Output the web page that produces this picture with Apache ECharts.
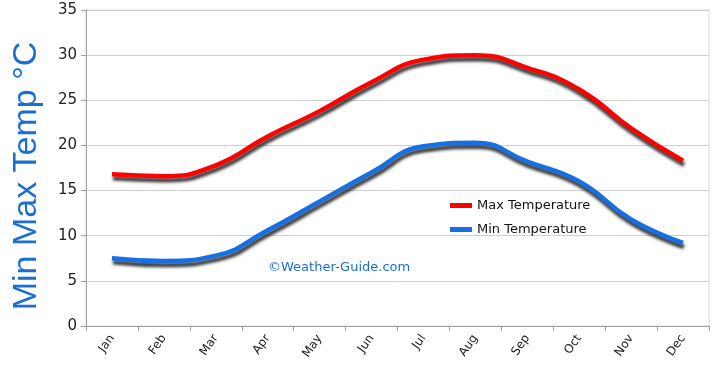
<!DOCTYPE html>
<html><head><meta charset="utf-8">
<script src="https://cdn.jsdelivr.net/npm/echarts@6/dist/echarts.min.js"></script>
<style>html,body{margin:0;padding:0;background:#fff}#c{width:720px;height:373px}</style>
</head><body><div id="c"></div>
<script>
var months = ['Jan','Feb','Mar','Apr','May','Jun','Jul','Aug','Sep','Oct','Nov','Dec'];
var maxTemp = [16.8, 16.6, 17.8, 21.0, 23.8, 27.0, 29.5, 30.0, 28.6, 26.2, 21.9, 18.3];
var minTemp = [7.5, 7.2, 7.8, 10.6, 13.8, 17.0, 19.9, 20.3, 18.2, 16.0, 11.8, 9.2];
var yTicks = [0, 5, 10, 15, 20, 25, 30, 35];
var seriesNames = ['Max Temperature', 'Min Temperature'];
var yTitle = 'Min Max Temp °C';
var font = '"DejaVu Sans", sans-serif';
var chart = echarts.init(document.getElementById('c'), null, {renderer:'canvas'});
function lineSeries(name, data, color) {
  return {
    name: name, type: 'line', data: data, smooth: 0.5, symbol: 'none',
    lineStyle: {color: color, width: 4.5, shadowColor: 'rgba(20,20,20,0.85)', shadowBlur: 3, shadowOffsetX: 1, shadowOffsetY: 4},
    itemStyle: {color: color}
  };
}
chart.setOption({
  animation: false,
  backgroundColor: '#fff',
  grid: {left: 86, right: 11, top: 10, bottom: 47, show: true, borderColor: '#d8d8d8', borderWidth: 1},
  legend: {
    orient: 'vertical', left: 445, top: 194, itemGap: 11, itemWidth: 22, itemHeight: 5,
    icon: 'rect',
    textStyle: {fontFamily: font, fontSize: 13, color: '#111'},
    data: seriesNames
  },
  xAxis: {
    type: 'category', data: months, boundaryGap: true,
    axisLine: {lineStyle: {color: '#a0a0a0'}},
    axisTick: {show: true, length: 5, lineStyle: {color: '#a0a0a0'}},
    axisLabel: {rotate: 55, fontFamily: font, fontSize: 12, color: '#222', margin: 10}
  },
  yAxis: {
    type: 'value', min: yTicks[0], max: yTicks[yTicks.length-1], interval: 5,
    axisLine: {show: true, lineStyle: {color: '#a0a0a0'}},
    axisTick: {show: true, length: 5, lineStyle: {color: '#a0a0a0'}},
    axisLabel: {fontFamily: font, fontSize: 15, color: '#222', margin: 9},
    splitLine: {lineStyle: {color: '#cfcfcf'}}
  },
  graphic: [{
    type: 'text', x: 27, y: 176, rotation: Math.PI / 2,
    style: {text: yTitle, fill: '#1a6fd0', font: '34px "Liberation Sans", sans-serif', align: 'center', verticalAlign: 'middle'}
  }, {
    type: 'text', left: 268, top: 261,
    style: {text: '©Weather-Guide.com', fill: '#1a6fd0', font: '13px ' + font}
  }],
  series: [lineSeries(seriesNames[0], maxTemp, '#ff0000'), lineSeries(seriesNames[1], minTemp, '#1570e6')]
});
</script></body></html>
